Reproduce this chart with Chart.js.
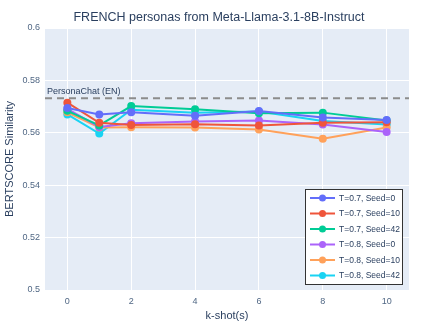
<!DOCTYPE html>
<html>
<head>
<meta charset="utf-8">
<script src="https://cdn.jsdelivr.net/npm/chart.js@4/dist/chart.umd.min.js"></script>
<style>
  html, body { margin: 0; padding: 0; background: #ffffff; }
  #chart { display: block; }
</style>
</head>
<body>
<canvas id="chart" width="439" height="329"></canvas>
<script>
const kShots = [0, 1, 2, 4, 6, 8, 10];
const xTicks = [0, 2, 4, 6, 8, 10];
const yTicks = [0.5, 0.52, 0.54, 0.56, 0.58, 0.6];

const seriesLabels = [
  "T=0.7, Seed=0",
  "T=0.7, Seed=10",
  "T=0.7, Seed=42",
  "T=0.8, Seed=0",
  "T=0.8, Seed=10",
  "T=0.8, Seed=42"
];
const t07seed0 = [0.5695, 0.5670, 0.5678, 0.5665, 0.5683, 0.5658, 0.5649];
const t07seed10 = [0.5715, 0.5638, 0.5630, 0.5633, 0.5628, 0.5638, 0.5640];
const t07seed42 = [0.5684, 0.5628, 0.5702, 0.5690, 0.5675, 0.5677, 0.5647];
const t08seed0 = [0.5691, 0.5622, 0.5636, 0.5643, 0.5647, 0.5632, 0.5603];
const t08seed10 = [0.5678, 0.5620, 0.5621, 0.5620, 0.5613, 0.5577, 0.5620];
const t08seed42 = [0.5670, 0.5597, 0.5688, 0.5677, 0.5681, 0.5645, 0.5632];
const seriesValues = [t07seed0, t07seed10, t07seed42, t08seed0, t08seed10, t08seed42];
const seriesColors = ["#636efa", "#ef553b", "#00cc96", "#ab63fa", "#ffa15a", "#19d3f3"];

const baselineLabel = "PersonaChat (EN)";
const baselineValue = 0.5732;

const chartTitle = "FRENCH personas from Meta-Llama-3.1-8B-Instruct";
const xTitle = "k-shot(s)";
const yTitle = "BERTSCORE Similarity";

const textColor = "#2a3f5f";
const fontFamily = "'Liberation Sans', Arial, sans-serif";

const plotBackground = {
  id: "plotBackground",
  beforeDraw(chart) {
    const { ctx, chartArea } = chart;
    ctx.save();
    ctx.fillStyle = "#e5ecf6";
    ctx.fillRect(chartArea.left, chartArea.top, chartArea.right - chartArea.left, chartArea.bottom - chartArea.top);
    ctx.restore();
  }
};

const baseline = {
  id: "baseline",
  beforeDatasetsDraw(chart) {
    const { ctx, chartArea, scales } = chart;
    const y = scales.y.getPixelForValue(baselineValue);
    ctx.save();
    ctx.strokeStyle = "#8c8c8c";
    ctx.lineWidth = 2;
    ctx.setLineDash([7, 5]);
    ctx.beginPath();
    ctx.moveTo(chartArea.left, y);
    ctx.lineTo(chartArea.right, y);
    ctx.stroke();
    ctx.setLineDash([]);
    ctx.fillStyle = textColor;
    ctx.font = "9px " + fontFamily;
    ctx.textAlign = "left";
    ctx.textBaseline = "bottom";
    ctx.fillText(baselineLabel, chartArea.left + 2, y - 2);
    ctx.restore();
  }
};

const titles = {
  id: "titles",
  afterDraw(chart) {
    const { ctx, chartArea } = chart;
    ctx.save();
    ctx.fillStyle = textColor;
    ctx.textAlign = "center";
    ctx.textBaseline = "middle";
    ctx.font = "12.5px " + fontFamily;
    ctx.fillText(chartTitle, 219, 18);
    ctx.font = "11px " + fontFamily;
    ctx.fillText(xTitle, (chartArea.left + chartArea.right) / 2, 316);
    ctx.translate(10, (chartArea.top + chartArea.bottom) / 2);
    ctx.rotate(-Math.PI / 2);
    ctx.fillText(yTitle, 0, 0);
    ctx.restore();
  }
};

const boxLegend = {
  id: "boxLegend",
  afterDraw(chart) {
    const { ctx } = chart;
    const left = 305, top = 189, width = 97, rowH = 15.5;
    const height = rowH * seriesLabels.length + 2;
    ctx.save();
    ctx.fillStyle = "#ffffff";
    ctx.fillRect(left, top, width, height);
    ctx.strokeStyle = "#333333";
    ctx.lineWidth = 1;
    ctx.strokeRect(left + 0.5, top + 0.5, width, height);
    ctx.font = "8.5px " + fontFamily;
    ctx.textAlign = "left";
    ctx.textBaseline = "middle";
    seriesLabels.forEach((label, i) => {
      const y = top + 9 + i * rowH;
      ctx.strokeStyle = seriesColors[i];
      ctx.lineWidth = 2;
      ctx.beginPath();
      ctx.moveTo(left + 5, y);
      ctx.lineTo(left + 30, y);
      ctx.stroke();
      ctx.fillStyle = seriesColors[i];
      ctx.beginPath();
      ctx.arc(left + 17.5, y, 3.5, 0, Math.PI * 2);
      ctx.fill();
      ctx.fillStyle = textColor;
      ctx.fillText(label, left + 34, y + 0.5);
    });
    ctx.restore();
  }
};

new Chart(document.getElementById("chart"), {
  type: "line",
  data: {
    datasets: seriesLabels.map((label, i) => ({
      label: label,
      data: kShots.map((k, j) => ({ x: k, y: seriesValues[i][j] })),
      borderColor: seriesColors[i],
      backgroundColor: seriesColors[i],
      borderWidth: 2,
      pointRadius: 4,
      pointBorderWidth: 0,
      tension: 0
    }))
  },
  options: {
    responsive: false,
    animation: false,
    layout: { padding: { top: 28, right: 30, left: 0, bottom: 0 } },
    plugins: {
      legend: { display: false },
      title: { display: false },
      tooltip: { enabled: false }
    },
    scales: {
      x: {
        type: "linear",
        min: -0.7,
        max: 10.7,
        afterBuildTicks: (axis) => { axis.ticks = xTicks.map((v) => ({ value: v })); },
        afterFit: (axis) => { axis.height = 39; },
        grid: { color: "#ffffff", lineWidth: 1, drawTicks: false },
        border: { display: false },
        ticks: { color: "#506784", font: { size: 9, family: fontFamily }, padding: 6 }
      },
      y: {
        min: 0.5,
        max: 0.6,
        afterBuildTicks: (axis) => { axis.ticks = yTicks.map((v) => ({ value: v })); },
        afterFit: (axis) => { axis.width = 45; },
        grid: { color: "#ffffff", lineWidth: 1, drawTicks: false },
        border: { display: false },
        ticks: {
          color: "#506784",
          font: { size: 9, family: fontFamily },
          padding: 5,
          callback: (v) => String(Math.round(v * 100) / 100)
        }
      }
    }
  },
  plugins: [plotBackground, baseline, titles, boxLegend]
});
</script>
</body>
</html>
